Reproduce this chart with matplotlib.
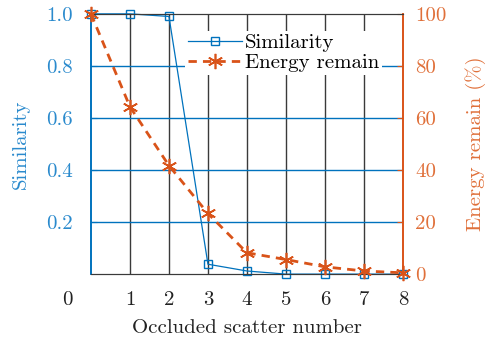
import matplotlib
matplotlib.use('Agg')
import matplotlib.pyplot as plt
import matplotlib.transforms as mtransforms

plt.rcParams['font.family'] = ['cmr10', 'DejaVu Serif']
plt.rcParams['mathtext.fontset'] = 'cm'
plt.rcParams['axes.formatter.use_mathtext'] = True

# data
scatter_num = [0, 1, 2, 3, 4, 5, 6, 7, 8]
similarity = [1.0, 1.0, 0.99, 0.038, 0.012, 0.0, 0.0, 0.0, 0.0]
energy_remain = [100, 64.3, 41.7, 23.3, 8.2, 5.6, 2.8, 1.2, 0.5]

left_ticks = [0.2, 0.4, 0.6, 0.8, 1.0]
left_labels = ['0.2', '0.4', '0.6', '0.8', '1.0']
right_ticks = [0, 20, 40, 60, 80, 100]
x_ticks = [1, 2, 3, 4, 5, 6, 7, 8]

blue = '#0072BD'
orange = '#D95319'
blue_txt = '#2a8acd'
orange_txt = '#e0703a'
grid_dark = '#3a3a3a'
fs = 15

fig = plt.figure(figsize=(4.89, 3.38), dpi=100)
ax = fig.add_axes([0.186, 0.189, 0.638, 0.770])
ax2 = ax.twinx()

ax.set_xlim(0, 8)
ax.set_ylim(0, 1.0)
ax2.set_ylim(0, 100)

# grid: dark verticals, blue horizontals
for xv in x_ticks[:-1]:
    ax.axvline(xv, color=grid_dark, lw=1.0, zorder=0)
for yv in left_ticks[:-1]:
    ax.axhline(yv, color=blue, lw=1.0, zorder=0)

l1, = ax.plot(scatter_num, similarity, color=blue, lw=0.9, marker='s',
              markersize=6, markerfacecolor='none', markeredgecolor=blue,
              markeredgewidth=1.0, label='Similarity', clip_on=False, zorder=3)
l2, = ax2.plot(scatter_num, energy_remain, color=orange, lw=2.0, ls=(0, (3, 2.2)),
               marker=(6, 2, 0), markersize=11, markeredgewidth=1.2,
               markeredgecolor=orange, label='Energy remain', clip_on=False, zorder=3)

ax.set_xticks(x_ticks)
ax.set_xticklabels([str(v) for v in x_ticks])
ax.set_yticks(left_ticks)
ax.set_yticklabels(left_labels)
ax2.set_yticks(right_ticks)
ax2.set_yticklabels([str(v) for v in right_ticks])

ax.tick_params(axis='x', direction='in', length=0, labelsize=fs, pad=12.5, colors='#222222')
ax.tick_params(axis='y', direction='in', length=4, labelsize=fs, colors=blue, labelcolor=blue_txt, pad=13)
ax2.tick_params(axis='y', direction='in', length=4, labelsize=fs, colors=orange, labelcolor=orange_txt, pad=9)

# the lone "0" label sitting left of the axis
trans = mtransforms.blended_transform_factory(ax.transData, ax.transAxes)
ax.text(-0.6, -0.1, '0', transform=trans, ha='center', va='center',
        fontsize=fs, color='#222222')

for a in (ax, ax2):
    a.spines['top'].set_color(grid_dark)
    a.spines['bottom'].set_color(grid_dark)
    a.spines['left'].set_color(blue)
    a.spines['right'].set_color(orange)
    a.spines['left'].set_linewidth(1.2)
    a.spines['right'].set_linewidth(1.2)

ax.set_xlabel('Occluded scatter number', fontsize=fs, color='#222222', labelpad=7)
ax.set_ylabel('Similarity', fontsize=fs, color=blue_txt, labelpad=12)
ax2.set_ylabel('Energy remain (%)', fontsize=fs, color=orange_txt, labelpad=13)

leg = ax2.legend(handles=[l1, l2], loc='upper left', bbox_to_anchor=(0.30, 0.935),
                 frameon=True, fancybox=False, edgecolor='none', facecolor='white',
                 framealpha=1.0, fontsize=fs, numpoints=1, handlelength=2.6,
                 handletextpad=0.15, borderpad=0.15, labelspacing=0.05, borderaxespad=0)
leg.set_zorder(5)

fig.savefig('out.png', dpi=100)
